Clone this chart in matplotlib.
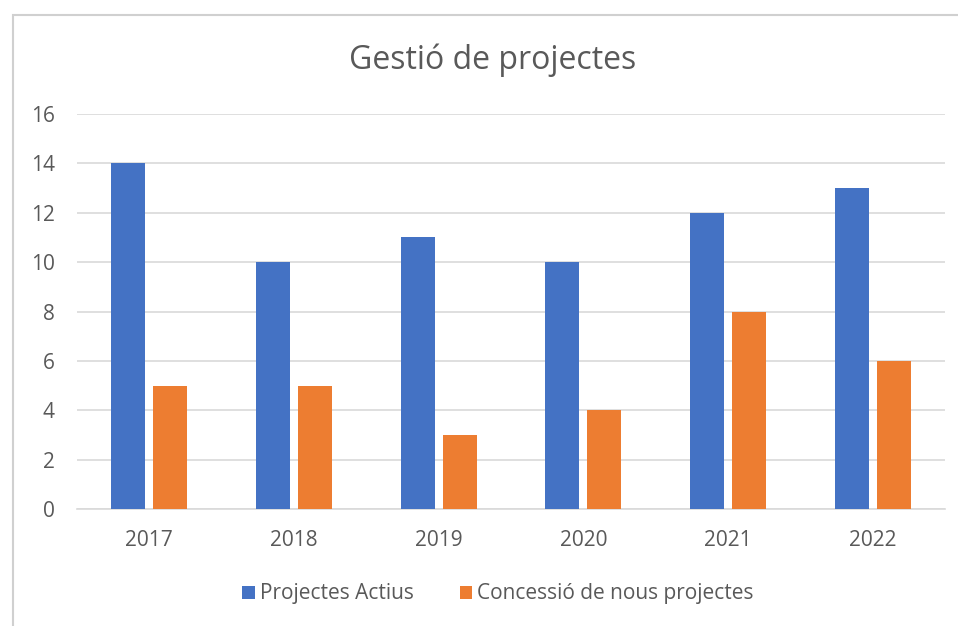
import matplotlib
import matplotlib.pyplot as plt
import numpy as np
from matplotlib.patches import Rectangle

matplotlib.use("Agg")

years = ["2017", "2018", "2019", "2020", "2021", "2022"]
actius = [14, 10, 11, 10, 12, 13]
concessio = [5, 5, 3, 4, 8, 6]
yticks = [0, 2, 4, 6, 8, 10, 12, 14, 16]

BLUE = "#4472C4"
ORANGE = "#ED7D31"
TEXT = "#595959"
GRID = "#D9D9D9"

plt.rcParams["font.family"] = ["Open Sans", "DejaVu Sans"]

W, H = 958, 626
fig = plt.figure(figsize=(W / 100, H / 100), dpi=100)
ax = fig.add_axes([77 / W, 1 - 509 / H, (945 - 77) / W, (509 - 114) / H])

# outer chart border (only left/top visible in the reference)
fig.patches.append(Rectangle((13 / W, -0.1), 1.2, 1 - 15 / H + 0.1, transform=fig.transFigure,
                             fill=False, edgecolor="#D0D0D0", linewidth=1.5))

x = np.arange(len(years))
bw = 0.235
off = 0.145
ax.bar(x - off, actius, bw, color=BLUE, label="Projectes Actius", zorder=3)
ax.bar(x + off, concessio, bw, color=ORANGE, label="Concessió de nous projectes", zorder=3)

ax.set_xlim(-0.5, len(years) - 0.5)
ax.set_ylim(0, 16)
ax.set_yticks(yticks)
ax.set_xticks(x)
ax.set_xticklabels(years)
ax.tick_params(length=0, labelsize=15, colors=TEXT)
ax.tick_params(axis="y", pad=16)
ax.tick_params(axis="x", pad=15)
ax.grid(axis="y", color=GRID, linewidth=1.2, zorder=0)
for s in ["top", "right", "left"]:
    ax.spines[s].set_visible(False)
ax.spines["bottom"].set_color(GRID)
ax.spines["bottom"].set_linewidth(1.2)

fig.text(493 / W, 1 - 60 / H, "Gestió de projectes", ha="center", va="center",
         fontsize=23, color=TEXT)

ax.legend(loc="center", bbox_to_anchor=(498 / W, 1 - 594 / H), bbox_transform=fig.transFigure,
          ncol=2, frameon=False, fontsize=15, labelcolor=TEXT, handlelength=0.6,
          handleheight=0.6, handletextpad=0.25, columnspacing=2.2)

fig.savefig("out.png", dpi=100)
